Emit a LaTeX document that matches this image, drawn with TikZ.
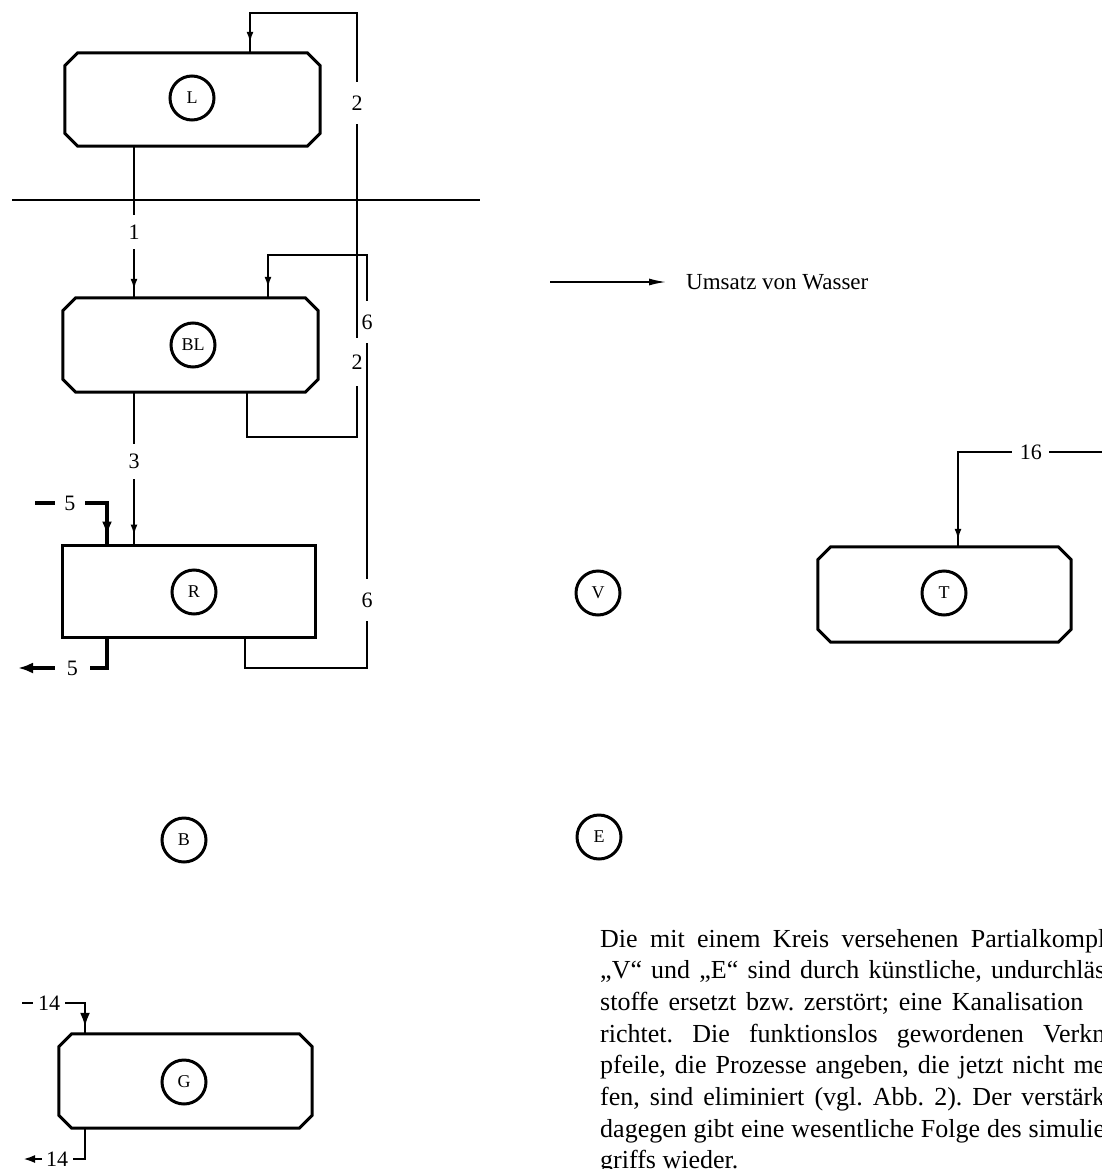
\documentclass[tikz,border=0pt]{standalone}
\usepackage{fontspec}
\setmainfont{Liberation Serif}
\usetikzlibrary{arrows.meta,decorations.markings}
\frenchspacing
\newcommand\chbox[1]{\draw[boxline] ([xshift=13pt]#1.north west) -- ([xshift=-13pt]#1.north east) -- ([yshift=-13pt]#1.north east) -- ([yshift=13pt]#1.south east) -- ([xshift=-13pt]#1.south east) -- ([xshift=13pt]#1.south west) -- ([yshift=13pt]#1.south west) -- ([yshift=-13pt]#1.north west) -- cycle;}
\tikzset{
  boxline/.style={line width=3pt, line join=miter},
  boxn/.style={rectangle, inner sep=0pt, draw=none},
  circ/.style={circle, draw, line width=3pt, minimum size=44pt, inner sep=0pt, font=\fontsize{18}{20}\selectfont},
  conn/.style={line width=2.1pt},
  thickconn/.style={line width=3.8pt},
  sepline/.style={line width=2pt},
  vlab/.style={fill=white, inner xsep=1pt, inner ysep=#1, font=\fontsize{22}{24}\selectfont},
  vlab/.default=12pt,
  hlab/.style={fill=white, inner ysep=1pt, inner xsep=#1, font=\fontsize{22}{24}\selectfont},
  hlab/.default=6pt,
  tipat/.style={postaction={decorate,decoration={markings,mark=at position -#1 with {\arrow{Latex[length=11pt,width=7pt]}}}}},
  bigtipat/.style={postaction={decorate,decoration={markings,mark=at position -#1 with {\arrow{Latex[length=14pt,width=10pt]}}}}},
  bodytext/.style={anchor=base west, inner sep=0pt, font=\fontsize{26}{31.7}\selectfont},
}
\begin{document}
\begin{tikzpicture}[x=1pt,y=-1pt]
\useasboundingbox (0,0) rectangle (1102,1169);
\clip (0,0) rectangle (1102,1169);

% boxes
\node[boxn, minimum width=255pt, minimum height=93pt] (L) at (192.5,99.5) {};
\chbox{L}
\node[circ] (Lc) at (192,98) {L};

\node[boxn, minimum width=255pt, minimum height=94pt] (BL) at (190.5,345) {};
\chbox{BL}
\node[circ] (BLc) at (193,345) {BL};

\node[boxn, draw, line width=3pt, minimum width=253pt, minimum height=92pt] (R) at (188.5,591) {};
\node[circ] (Rc) at (194,592) {R};

\node[boxn, minimum width=253pt, minimum height=95pt] (T) at (944.5,594.5) {};
\chbox{T}
\node[circ] (Tc) at (944,593) {T};

\node[boxn, minimum width=253pt, minimum height=94pt] (G) at (185.5,1081) {};
\chbox{G}
\node[circ] (Gc) at (184,1082) {G};

\node[circ] (V) at (598,593) {V};
\node[circ] (B) at (184,840) {B};
\node[circ] (E) at (599,837) {E};

% separator
\coordinate (s1) at (12,200);
\coordinate (s2) at (480,200);
\draw[sepline] (s1) -- (s2);

% column coordinates
\coordinate (c1) at (134,0);
\coordinate (p2a) at (247,437);
\coordinate (p2b) at (357,437);
\coordinate (p2c) at (357,13);
\coordinate (p2d) at (250,13);
\coordinate (p6a) at (245,668);
\coordinate (p6b) at (367,668);
\coordinate (p6c) at (367,255);
\coordinate (p6d) at (268,255);

% connector 1
\draw[conn, tipat=8pt] (L.south -| c1) -- node[vlab=10pt, pos=0.566] {1} (BL.north -| c1);
% connector 3
\draw[conn, tipat=8pt] (BL.south -| c1) -- node[vlab=10pt, pos=0.458] {3} (R.north -| c1);
% connector 2
\draw[conn, tipat=10pt] (BL.south -| p2a) -- (p2a) -- (p2b)
   -- node[vlab=17pt, pos=0.177] {2} node[vlab=13.5pt, pos=0.788] {2} (p2c)
   -- (p2d) -- (L.north -| p2d);
% connector 6
\draw[conn, tipat=10pt] (R.south -| p6a) -- (p6a) -- (p6b)
   -- node[vlab=13.5pt, pos=0.165] {6} node[vlab=13.5pt, pos=0.838] {6} (p6c)
   -- (p6d) -- (BL.north -| p6d);

% 5 in / out
\coordinate (in5) at (35,503);
\coordinate (k5) at (107,503);
\draw[thickconn, bigtipat=8pt] (in5) -- node[hlab=9.5pt, pos=0.486] {5} (k5) -- (R.north -| k5);
\coordinate (k5b) at (107,668);
\coordinate (out5) at (18,668);
\draw[line width=4.5pt, -{Latex[length=15pt,width=11pt]}] (R.south -| k5b) -- (k5b) -- node[hlab=12pt, pos=0.39] {5} (out5);

% 14 in / out
\coordinate (in14) at (22,1003);
\coordinate (k14) at (85,1003);
\draw[line width=2.3pt, bigtipat=7pt] (in14) -- node[hlab=5pt, pos=0.43] {14} (k14) -- (G.north -| k14);
\coordinate (k14b) at (85,1159);
\coordinate (out14) at (23,1159);
\draw[line width=2.3pt, -{Latex[length=12pt,width=8pt]}] (G.south -| k14b) -- (k14b) -- node[hlab=4.5pt, pos=0.45] {14} (out14);

% 16
\coordinate (in16) at (1110,452);
\coordinate (k16) at (958,452);
\draw[conn, tipat=7pt] (in16) -- node[hlab=7.5pt, pos=0.52] {16} (k16) -- (T.north -| k16);

% legend
\coordinate (lg1) at (550,282);
\coordinate (lg2) at (667,282);
\draw[conn, -{Latex[length=18pt,width=7pt]}] (lg1) -- (lg2);
\node[anchor=base west, inner sep=0pt, font=\fontsize{23}{26}\selectfont] (lgt) at (686,289) {Umsatz von Wasser};

% body text
\node[bodytext] (t1) at (600,947) {\makebox[505pt][s]{Die mit einem Kreis versehenen Partialkompl}};
\node[bodytext] (t2) at (600,978.5) {\makebox[505pt][s]{„V“ und „E“ sind durch künstliche, undurchläs}};
\node[bodytext] (t3) at (600,1010) {\makebox[483pt][s]{stoffe ersetzt bzw. zerstört; eine Kanalisation}};
\node[bodytext] (t4) at (600,1042) {\makebox[505pt][s]{richtet. Die funktionslos gewordenen Verkn}};
\node[bodytext] (t5) at (600,1073.5) {\makebox[505pt][s]{pfeile, die Prozesse angeben, die jetzt nicht me}};
\node[bodytext] (t6) at (600,1105) {\makebox[505pt][s]{fen, sind eliminiert (vgl. Abb. 2). Der verstärk}};
\node[bodytext] (t7) at (600,1137) {\makebox[505pt][s]{dagegen gibt eine wesentliche Folge des simulie}};
\node[bodytext] (t8) at (600,1168) {griffs wieder.};
\end{tikzpicture}
\end{document}
